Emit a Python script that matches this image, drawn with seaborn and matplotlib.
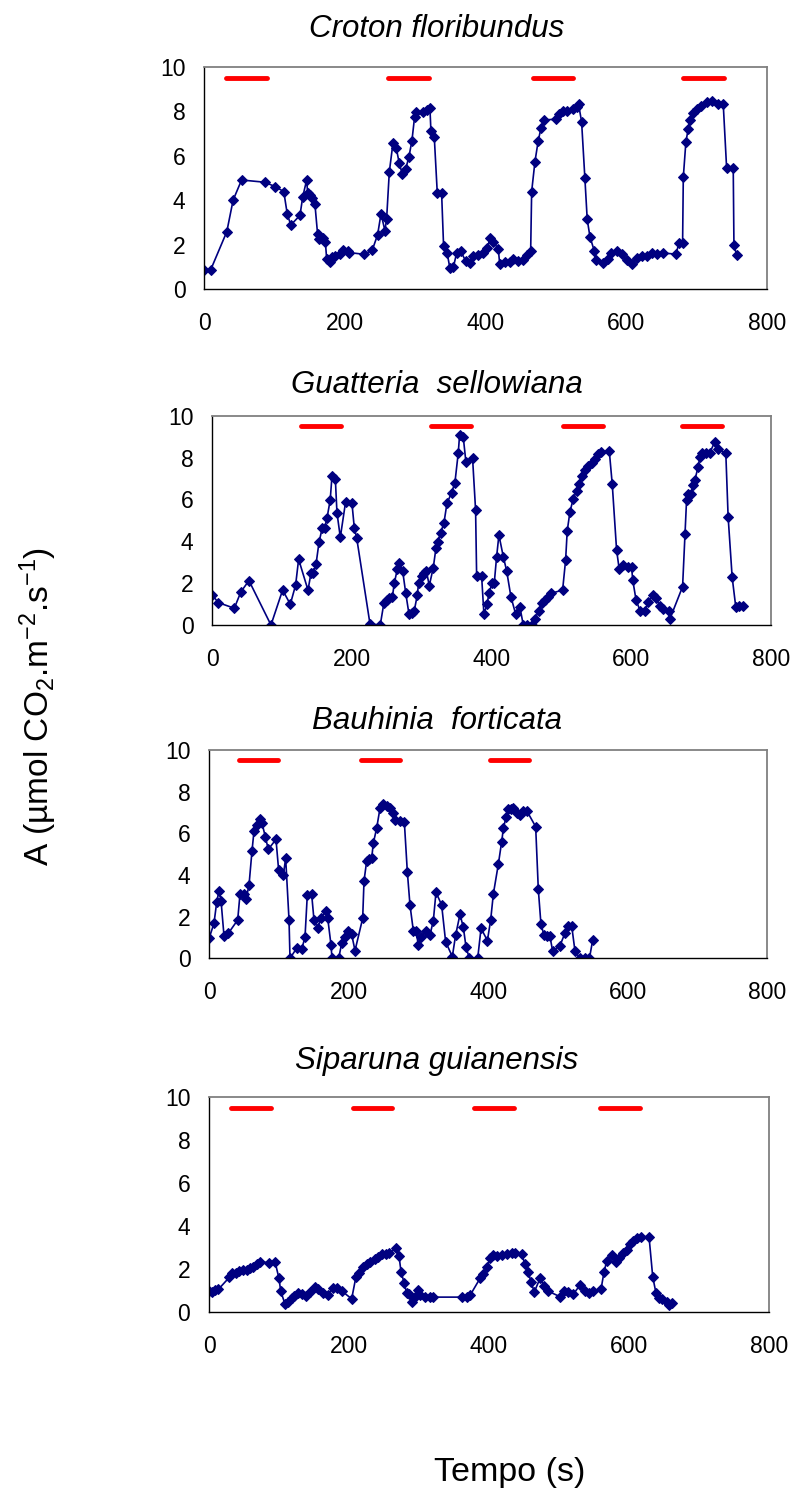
import numpy as np
import pandas as pd
import matplotlib
matplotlib.use("Agg")
import matplotlib.pyplot as plt
import seaborn as sns

# ---------------- data ----------------
titles = ["Croton floribundus", "Guatteria  sellowiana", "Bauhinia  forticata", "Siparuna guianensis"]

croton_t = [0, 9, 32, 41, 53, 86, 101, 113, 118, 123, 136, 140, 145.5, 147, 150.3, 153.5, 157.3, 161, 163,
            168.3, 172.1, 174, 178.7, 182, 185.8, 193, 197.6, 203.8, 206.2, 227.5, 238.9, 246.4, 251.2, 256.8,
            259.2, 263, 268.2, 273, 277.2, 281.5, 286.2, 291, 295.2, 299, 301.4, 311.3, 316, 320.8, 322.2, 327,
            331.2, 337.4, 340.2, 345.4, 349.2, 354, 358.6, 364.3, 371.4, 377.5, 382.3, 389.4, 396.5, 402.6, 406,
            411, 418, 420, 427.4, 434.5, 439.3, 446.4, 452.5, 458.2, 464, 465.4, 470.1, 474.8, 478.6, 483.4,
            499.9, 504.7, 510.4, 516.1, 524.6, 529.4, 532.1, 536.4, 541.1, 544.4, 548.3, 554.4, 556.3, 566.3,
            573.4, 578.1, 586.2, 593.3, 600.4, 607.5, 614.6, 621.7, 628.8, 635.9, 643, 652.4, 670.5, 675, 680,
            681, 684.7, 688, 690.4, 695.1, 699.9, 706, 714.1, 721.2, 730.7, 737.8, 742.6, 752, 753, 756.8]
croton_a = [0.87, 0.87, 2.59, 4.01, 4.91, 4.81, 4.61, 4.39, 3.37, 2.89, 3.32, 4.16, 4.91, 4.31, 4.24, 4.1, 3.82,
            2.5, 2.28, 2.29, 2.14, 1.35, 1.24, 1.43, 1.5, 1.57, 1.77, 1.72, 1.65, 1.57, 1.77, 2.45, 3.39, 2.64,
            3.16, 5.26, 6.56, 6.33, 5.66, 5.17, 5.39, 5.96, 6.68, 7.75, 7.98, 7.98, 8.05, 8.13, 7.11, 6.82, 4.34,
            4.31, 1.94, 1.61, 0.94, 0.98, 1.61, 1.73, 1.28, 1.16, 1.49, 1.54, 1.64, 1.84, 2.29, 2.14, 1.8, 1.14,
            1.24, 1.24, 1.34, 1.28, 1.31, 1.54, 1.73, 4.39, 5.74, 6.68, 7.23, 7.61, 7.64, 7.88, 8.01, 8.02, 8.08,
            8.17, 8.31, 7.53, 4.98, 3.14, 2.36, 1.73, 1.31, 1.16, 1.34, 1.61, 1.73, 1.57, 1.31, 1.14, 1.4, 1.48,
            1.51, 1.63, 1.57, 1.63, 1.58, 2.09, 2.06, 5.03, 6.63, 7.2, 7.61, 7.91, 8.1, 8.25, 8.43, 8.46, 8.31,
            8.31, 5.44, 5.44, 1.98, 1.55]

guatteria_t = [0, 8.6, 31.5, 41, 52.5, 84, 100.7, 111.7, 119.3, 123.6, 137, 141.3, 144.6, 148.5, 152.8, 157.5,
               160.9, 164.2, 168.8, 171.4, 176.2, 178.5, 183.3, 190.9, 200, 203.3, 206.7, 225.8, 240.5, 245.8,
               249.6, 253.5, 257.7, 260.6, 264.9, 267.7, 272.5, 276.9, 281.6, 285.4, 289.2, 293.5, 295.4, 299.7,
               303, 306.4, 310.7, 316.4, 320.2, 322.6, 326.9, 331.6, 336, 342.6, 347.4, 352.2, 354.1, 359.4, 363.2,
               372.7, 377, 378.5, 385.6, 388.9, 393.7, 396.1, 400.8, 403.7, 407.1, 410.4, 416.7, 421.4, 427.6,
               434.3, 440.5, 445.3, 450.1, 457.2, 461.9, 467.7, 471.5, 476.3, 481.1, 484.9, 501.6, 505.9, 508.2,
               512.1, 516.8, 521.6, 524.9, 528.8, 533.5, 538.3, 543.1, 547.8, 552.2, 557, 568.4, 572.7, 578.9,
               582.7, 588.4, 595.6, 600.3, 602, 606.8, 612.5, 619.7, 624.3, 630.5, 635.3, 641, 645.8, 654.4, 655.2,
               673.4, 676.8, 679.1, 681.5, 685.3, 688.6, 690.9, 695.7, 698.1, 701.9, 707.6, 712.4, 719.6, 724.4,
               735.3, 738.6, 744.4, 749.6, 754.6, 760.2]
guatteria_a = [1.43, 1.07, 0.8, 1.59, 2.12, 0.0, 1.67, 0.99, 1.91, 3.14, 1.67, 2.47, 2.47, 2.9, 3.95, 4.65, 4.65,
               5.1, 5.97, 7.12, 6.96, 5.37, 4.19, 5.89, 5.81, 4.65, 4.17, 0.05, 0.0, 1.07, 1.19, 1.27, 1.32, 1.99,
               2.67, 2.97, 2.6, 1.54, 0.53, 0.59, 0.68, 1.43, 1.99, 2.34, 2.49, 2.6, 1.88, 2.74, 3.66, 3.95, 4.41,
               4.86, 5.81, 6.32, 6.8, 8.23, 9.08, 8.96, 7.77, 7.96, 5.49, 2.36, 2.36, 0.53, 1.0, 1.54, 1.99, 1.99,
               3.26, 4.3, 3.26, 2.6, 1.35, 0.53, 0.85, 0.0, 0.0, 0.0, 0.29, 0.69, 1.07, 1.19, 1.35, 1.51, 1.67,
               3.1, 4.49, 5.41, 6.02, 6.42, 6.74, 7.12, 7.4, 7.6, 7.72, 7.91, 8.15, 8.25, 8.33, 6.72, 3.58, 2.66,
               2.87, 2.79, 2.79, 2.15, 1.19, 0.69, 0.69, 1.11, 1.43, 1.27, 0.9, 0.75, 0.67, 0.29, 1.83, 4.33,
               5.97, 6.24, 6.26, 6.71, 6.92, 7.56, 8.01, 8.23, 8.2, 8.23, 8.76, 8.39, 8.2, 5.17, 2.28, 0.85, 0.91,
               0.91]

bauhinia_t = [0, 6.7, 10.6, 13.9, 16.8, 21.1, 27.3, 40.7, 44, 49.8, 52.6, 56.9, 61.2, 64.1, 67.9, 72.7, 75.6,
              80.3, 84.6, 95.6, 99.4, 106.1, 109.5, 114.3, 115.7, 125.2, 132.4, 137.2, 140.5, 146.7, 150.1, 155.4,
              160.1, 166.8, 169.7, 174.5, 175.9, 185.5, 189.8, 194.6, 199.3, 204.1, 208.9, 219.9, 221.8, 225.7,
              229.4, 232.8, 235.1, 239.9, 244.7, 249.5, 254.3, 259.1, 262.9, 266.2, 273.4, 279.6, 283.9, 287.7,
              292.5, 296.3, 299.7, 303.5, 310.2, 316.4, 321.2, 325, 333.1, 338.8, 348.4, 353.2, 359.4, 364.2, 368,
              372.8, 384.8, 389.6, 398.7, 403.4, 407.2, 414.4, 419.2, 421.6, 425.4, 427.8, 432, 435.9, 440.7,
              445.5, 450.2, 455, 467.9, 471.7, 475.5, 479.8, 483.7, 488.4, 492.3, 502.8, 510, 513.8, 519.5, 524.3,
              531.4, 538.1, 545, 549.7]
bauhinia_a = [0.99, 1.68, 2.69, 3.25, 2.77, 1.07, 1.2, 1.84, 3.08, 3.08, 2.83, 3.5, 5.15, 6.11, 6.4, 6.69, 6.48,
              5.84, 5.23, 5.71, 4.24, 4.0, 4.8, 1.84, 0.0, 0.48, 0.43, 1.01, 3.04, 3.09, 1.84, 1.44, 1.95, 2.27,
              1.95, 0.64, 0.0, 0.0, 0.72, 1.04, 1.33, 1.15, 0.37, 1.92, 3.71, 4.69, 4.75, 4.8, 5.52, 6.24, 7.2,
              7.41, 7.31, 7.2, 6.99, 6.64, 6.59, 6.56, 4.16, 2.56, 1.33, 1.33, 0.64, 1.01, 1.33, 1.12, 1.81, 3.17,
              2.56, 0.8, 0.08, 1.12, 2.11, 1.49, 0.56, 0.0, 0.0, 1.44, 0.85, 1.84, 3.08, 4.52, 5.6, 6.24, 6.77,
              7.15, 7.15, 7.23, 6.99, 6.88, 7.09, 7.09, 6.32, 3.31, 1.63, 1.12, 1.07, 1.05, 0.34, 0.61, 1.22, 1.57,
              1.57, 0.34, 0.0, 0.0, 0.0, 0.88]

siparuna_t = [0, 3.8, 8.6, 13.3, 29, 33.3, 38.6, 43.3, 48.1, 53.8, 58.6, 63.3, 68.1, 72.9, 86.2, 94.3, 100,
              102.4, 108.6, 113.3, 118.1, 121.9, 127.6, 132.4, 138.6, 144.3, 151.4, 156.2, 162.4, 169.5, 176.7,
              182.4, 189.5, 203.8, 210, 214.3, 220.5, 225.2, 230, 237.1, 241.9, 247.6, 252.9, 257.6, 267.1, 271.4,
              274.3, 279, 282.4, 286.2, 290, 294.3, 299, 301.4, 308.6, 315.7, 320.5, 360.9, 368.1, 372.9, 387.1,
              391.9, 397.6, 401.4, 406.2, 410.9, 418.1, 425.2, 432.4, 437.1, 446.7, 451.4, 456.2, 460, 464.8,
              472.9, 478.6, 483.8, 501.4, 507.6, 513.3, 520.5, 530, 536.7, 542.4, 549, 560, 564.3, 568.1, 575.2,
              581.4, 586.2, 591.9, 597.6, 601.4, 606.2, 610.9, 616.7, 628.6, 633.9, 638.6, 643.3, 647.6, 653.8,
              657.1, 661]
siparuna_a = [0.97, 0.94, 1.02, 1.04, 1.6, 1.82, 1.82, 1.9, 1.94, 1.94, 2.02, 2.1, 2.22, 2.33, 2.28, 2.33, 1.55,
              0.97, 0.35, 0.47, 0.62, 0.73, 0.86, 0.83, 0.73, 0.93, 1.13, 1.04, 0.88, 0.78, 1.12, 1.09, 0.97, 0.6,
              1.64, 1.79, 2.07, 2.22, 2.33, 2.44, 2.56, 2.69, 2.69, 2.72, 2.96, 2.61, 1.87, 1.32, 0.86, 0.81, 0.47,
              0.7, 1.0, 0.8, 0.68, 0.68, 0.68, 0.68, 0.68, 0.76, 1.55, 1.78, 2.07, 2.49, 2.64, 2.61, 2.64, 2.69,
              2.72, 2.72, 2.67, 2.22, 1.87, 1.37, 0.93, 1.55, 1.2, 0.97, 0.7, 0.98, 0.93, 0.82, 1.24, 0.98, 0.89,
              0.96, 1.04, 1.85, 2.35, 2.66, 2.32, 2.49, 2.76, 2.87, 3.15, 3.31, 3.45, 3.5, 3.5, 1.63, 0.86, 0.63,
              0.6, 0.46, 0.31, 0.39]

# light-period bars (start, end) drawn at A = 9.5
croton_bars = [(31, 89), (261, 319), (467, 524), (681, 739)]
guatteria_bars = [(127, 184), (313, 370), (502, 560), (673, 730)]
bauhinia_bars = [(42, 98), (217, 274), (402, 459)]
siparuna_bars = [(31, 88), (205, 261), (378, 435), (559, 616)]
bar_level = 9.5

x_ticks = [0, 200, 400, 600, 800]
y_ticks = [0, 2, 4, 6, 8, 10]

# ---------------- style ----------------
sns.set_theme(style="white")
plt.rcParams['font.family'] = ['Liberation Sans', 'DejaVu Sans']
plt.rcParams['text.color'] = 'black'
plt.rcParams['axes.labelcolor'] = 'black'
plt.rcParams['mathtext.fontset'] = 'custom'
plt.rcParams['mathtext.rm'] = 'Liberation Sans'
plt.rcParams['mathtext.it'] = 'Liberation Sans:italic'

W, H = 794, 1491
fig = plt.figure(figsize=(W / 100, H / 100), dpi=100)

# pixel boxes: left, right, top, bottom
boxes = [(204.3, 767.0, 66.7, 289.3),
         (212.3, 771.0, 415.7, 625.0),
         (209.3, 767.3, 750.0, 958.3),
         (209.0, 769.0, 1097.3, 1311.7)]
title_base = [37, 393, 729, 1069]

series = [(croton_t, croton_a, croton_bars),
          (guatteria_t, guatteria_a, guatteria_bars),
          (bauhinia_t, bauhinia_a, bauhinia_bars),
          (siparuna_t, siparuna_a, siparuna_bars)]

navy = '#000080'
for i, ((t, a, bars), (l, r, tp, b)) in enumerate(zip(series, boxes)):
    ax = fig.add_axes([l / W, 1 - b / H, (r - l) / W, (b - tp) / H])
    df = pd.DataFrame({'t': t, 'A': a})
    sns.lineplot(data=df, x='t', y='A', ax=ax, color=navy, lw=1.2, marker='D', markersize=5.3,
                 markeredgecolor=navy, markerfacecolor=navy, sort=False, estimator=None)
    for s, e in bars:
        ax.plot([s, e], [bar_level, bar_level], color='#ff0000', lw=3.5, solid_capstyle='round')
    ax.set_xlim(0, 800)
    ax.set_ylim(0, 10)
    ax.set_xticks(x_ticks)
    ax.set_yticks(y_ticks)
    ax.set_xlabel('')
    ax.set_ylabel('')
    for side in ['top', 'right']:
        ax.spines[side].set_color('#808080')
        ax.spines[side].set_linewidth(1.3)
    for side in ['left', 'bottom']:
        ax.spines[side].set_color('black')
        ax.spines[side].set_linewidth(1.0)
    ax.tick_params(axis='both', direction='out', length=4.5, width=0.9, color='black',
                   labelsize=16.5, labelcolor='black')
    ax.tick_params(axis='y', pad=9)
    ax.tick_params(axis='x', pad=12)
    fig.text(437 / W, 1 - title_base[i] / H, titles[i], ha='center', va='baseline',
             fontsize=22.5, style='italic', color='black')

fig.text(38 / W, 1 - 706 / H, 'A (µmol CO$_2$.m$^{-2}$.s$^{-1}$)', rotation=90,
         ha='center', va='center', fontsize=24, color='black')
fig.text(510 / W, 1 - 1481 / H, 'Tempo (s)', ha='center', va='baseline', fontsize=24.5, color='black')

fig.savefig('out.png', dpi=100)
